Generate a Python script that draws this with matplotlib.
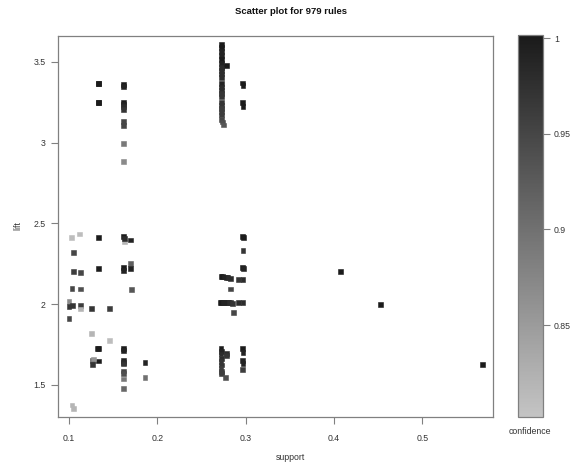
import matplotlib
matplotlib.use("Agg")
import matplotlib.pyplot as plt
from matplotlib.colors import LinearSegmentedColormap, Normalize
import numpy as np

plt.rcParams['font.family'] = ['Liberation Sans', 'DejaVu Sans']

title = "Scatter plot for 979 rules"
x_label = "support"
y_label = "lift"
c_label = "confidence"

# (support, lift, confidence)
support = [
    # left group
    0.103, 0.1115, 0.105, 0.105, 0.1132, 0.1034, 0.1132, 0.100, 0.100, 0.1038,
    0.1132, 0.1132, 0.125, 0.146, 0.100, 0.125, 0.146, 0.1325, 0.1336, 0.127,
    0.127, 0.1336, 0.1275, 0.1034, 0.105,
    # 0.133 column
    0.1332, 0.1338, 0.1332, 0.1338, 0.1332, 0.1336,
    # 0.1615 column
    0.1615, 0.1618, 0.1615, 0.1618, 0.1615, 0.1618, 0.1615, 0.1615, 0.1618,
    0.1615, 0.1618, 0.1625, 0.1615, 0.1618, 0.1615, 0.1618, 0.1615, 0.1618,
    0.1615, 0.1618, 0.1615, 0.1618, 0.1615, 0.1625,
    # 0.169 column
    0.1693, 0.1693, 0.1693, 0.171,
    # 0.186
    0.186, 0.186,
    # 0.272 upper column
    0.2725, 0.2722, 0.2728, 0.2722, 0.2725, 0.2728, 0.2722, 0.2725, 0.2722,
    0.2728, 0.2722, 0.2725, 0.2722, 0.2728, 0.2722, 0.2725, 0.2722, 0.2728,
    0.2722, 0.2725, 0.2730, 0.2740, 0.2750, 0.2785,
    # 0.272-0.29 middle
    0.2720, 0.2740, 0.2760, 0.2780, 0.2800, 0.2830, 0.2830,
    0.2710, 0.2730, 0.2750, 0.2770, 0.2790, 0.2810, 0.2830, 0.2850, 0.2860,
    0.2916, 0.2916,
    # 0.272 lower
    0.2720, 0.2725, 0.2720, 0.2725, 0.2720, 0.2725, 0.2720, 0.2725, 0.2730,
    0.2780, 0.2785, 0.2770,
    # 0.297 column
    0.2965, 0.2970, 0.2965, 0.2970, 0.2965, 0.2975, 0.2970, 0.2965, 0.2975,
    0.2970, 0.2965, 0.2970, 0.2965, 0.2970, 0.2965, 0.2970,
    # isolated
    0.4077, 0.4530, 0.5685,
]
lift = [
    2.413, 2.434, 2.318, 2.200, 2.194, 2.097, 2.093, 2.014, 1.983, 1.991,
    1.993, 1.969, 1.971, 1.971, 1.911, 1.818, 1.775, 1.725, 1.725, 1.651,
    1.627, 1.647, 1.660, 1.374, 1.354,
    3.368, 3.368, 3.248, 3.248, 2.413, 2.219,
    3.362, 3.350, 3.252, 3.238, 3.222, 3.208, 3.132, 3.105, 2.996,
    2.882, 2.418, 2.385, 2.224, 2.210, 1.725, 1.710, 1.652, 1.640,
    1.628, 1.585, 1.572, 1.535, 1.479, 2.405,
    2.397, 2.250, 2.222, 2.089,
    1.638, 1.547,
    3.608, 3.590, 3.565, 3.540, 3.515, 3.490, 3.466, 3.445, 3.425,
    3.405, 3.365, 3.345, 3.325, 3.305, 3.285, 3.252, 3.232, 3.212,
    3.192, 3.172, 3.145, 3.128, 3.110, 3.478,
    2.172, 2.170, 2.168, 2.165, 2.162, 2.158, 2.093,
    2.012, 2.010, 2.008, 2.010, 2.012, 2.008, 2.010, 2.005, 1.946,
    2.150, 2.010,
    1.722, 1.708, 1.690, 1.662, 1.642, 1.622, 1.602, 1.582, 1.568,
    1.692, 1.680, 1.545,
    3.370, 3.352, 3.250, 3.225, 2.420, 2.412, 2.333, 2.225, 2.222,
    2.152, 1.725, 1.702, 1.652, 1.632, 1.592, 2.010,
    2.200, 1.996, 1.624,
]
confidence = [
    0.81, 0.81, 0.95, 0.96, 0.95, 0.95, 0.94, 0.87, 0.97, 0.97,
    0.96, 0.82, 0.97, 0.96, 0.95, 0.82, 0.81, 0.99, 1.00, 0.93,
    0.97, 1.00, 0.86, 0.82, 0.82,
    1.00, 1.00, 1.00, 1.00, 1.00, 1.00,
    1.00, 0.99, 1.00, 0.99, 0.98, 0.97, 0.95, 0.95, 0.89,
    0.87, 1.00, 0.82, 1.00, 0.99, 1.00, 0.99, 0.99, 0.98,
    0.97, 0.95, 0.94, 0.89, 0.91, 0.98,
    0.99, 0.92, 0.99, 0.93,
    0.99, 0.90,
    1.00, 1.00, 0.99, 0.99, 1.00, 0.99, 0.98, 0.98, 0.98,
    0.98, 0.99, 0.98, 0.98, 0.97, 0.97, 0.97, 0.97, 0.96,
    0.96, 0.96, 0.95, 0.94, 0.93, 1.00,
    1.00, 1.00, 0.99, 0.99, 0.98, 0.98, 0.95,
    1.00, 1.00, 0.99, 0.99, 0.99, 0.98, 0.98, 0.97, 0.95,
    0.97, 0.98,
    1.00, 0.99, 0.98, 0.98, 0.97, 0.97, 0.96, 0.96, 0.96,
    0.98, 0.97, 0.94,
    1.00, 1.00, 1.00, 1.00, 1.00, 1.00, 0.97, 1.00, 0.99,
    0.98, 1.00, 0.99, 0.99, 0.99, 0.96, 0.98,
    1.00, 1.00, 1.00,
]

x_ticks = [0.1, 0.2, 0.3, 0.4, 0.5]
x_ticklabels = ["0.1", "0.2", "0.3", "0.4", "0.5"]
y_ticks = [1.5, 2, 2.5, 3, 3.5]
y_ticklabels = ["1.5", "2", "2.5", "3", "3.5"]
c_ticks = [0.85, 0.9, 0.95, 1.0]
c_ticklabels = ["0.85", "0.9", "0.95", "1"]

cmap = LinearSegmentedColormap.from_list("grays", ["#c4c4c4", "#1a1a1a"])
norm = Normalize(vmin=0.802, vmax=1.0016)

W, H = 576, 463
fig = plt.figure(figsize=(W / 100, H / 100), dpi=100)
ax = fig.add_axes([58 / W, 1 - 417 / H, 435 / W, 381 / H])
cax = fig.add_axes([518 / W, 1 - 417 / H, 25 / W, 382 / H])

frame_col = "#808080"
fs = 6.3

ax.scatter(support, lift, c=confidence, cmap=cmap, norm=norm, marker="s",
           s=12, linewidths=0.4, edgecolors=cmap(norm(np.array(confidence))))
ax.set_xlim(0.0875, 0.580)
ax.set_ylim(1.30, 3.661)
ax.set_xticks(x_ticks)
ax.set_xticklabels(x_ticklabels)
ax.set_yticks(y_ticks)
ax.set_yticklabels(y_ticklabels)
for sp in ax.spines.values():
    sp.set_color(frame_col)
    sp.set_linewidth(0.9)
ax.tick_params(axis="x", length=5, width=0.8, color=frame_col, labelsize=fs,
               pad=7, labelcolor="#333333")
ax.tick_params(axis="y", length=5, width=0.8, color=frame_col, labelsize=fs,
               pad=4, labelcolor="#333333")

sm = plt.cm.ScalarMappable(cmap=cmap, norm=norm)
cb = fig.colorbar(sm, cax=cax)
cb.set_ticks(c_ticks)
cb.set_ticklabels(c_ticklabels)
cb.outline.set_edgecolor(frame_col)
cb.outline.set_linewidth(0.9)
cax.tick_params(length=5, width=0.8, color=frame_col, labelsize=fs, pad=3,
                labelcolor="#333333")

fig.text(291 / W, 1 - 12 / H, title, ha="center", va="center",
         fontsize=6.8, fontweight="bold", color="#111111")
fig.text(290 / W, 1 - 457 / H, x_label, ha="center", va="center",
         fontsize=fs, color="#333333")
fig.text(18 / W, 1 - 226 / H, y_label, ha="center", va="center",
         rotation=90, fontsize=fs, color="#333333")
fig.text(530 / W, 1 - 431 / H, c_label, ha="center", va="center",
         fontsize=fs, color="#333333")

fig.savefig("out.png", dpi=100)
